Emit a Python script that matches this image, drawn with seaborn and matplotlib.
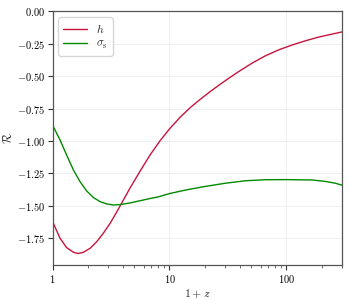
import numpy as np
import pandas as pd
import matplotlib
matplotlib.use("Agg")
import matplotlib.pyplot as plt
import matplotlib.ticker as mticker
import seaborn as sns

# 读图得到的数据点 (1+z, R)
h_x = [1.0, 1.016, 1.16, 1.32, 1.51, 1.66, 1.84, 2.10, 2.39, 2.72, 3.11, 3.55, 4.04,
       4.61, 5.61, 6.83, 8.32, 10.1, 12.4, 15.0, 18.3, 22.3, 27.2, 33.0, 39.0, 50.7,
       66.0, 85.8, 112.0, 145.0, 189.0, 246.0, 300.0]
h_y = [-1.625, -1.636, -1.752, -1.824, -1.86, -1.870, -1.86, -1.829, -1.778, -1.713,
       -1.636, -1.547, -1.456, -1.363, -1.233, -1.108, -0.998, -0.903, -0.815, -0.744,
       -0.679, -0.619, -0.562, -0.509, -0.465, -0.400, -0.343, -0.297, -0.259, -0.227,
       -0.198, -0.175, -0.158]

s_x = [1.0, 1.016, 1.16, 1.32, 1.51, 1.72, 1.96, 2.24, 2.55, 2.91, 3.32, 3.78, 4.61,
       5.61, 6.83, 8.05, 10.1, 14.0, 19.5, 30.0, 44.5, 66.0, 100.0, 166.0, 215.0,
       262.0, 300.0]
s_y = [-0.878, -0.890, -0.993, -1.109, -1.225, -1.315, -1.387, -1.438, -1.469, -1.487,
       -1.495, -1.492, -1.479, -1.462, -1.445, -1.432, -1.406, -1.378, -1.354, -1.327,
       -1.308, -1.300, -1.299, -1.302, -1.313, -1.327, -1.343]

df = pd.concat([
    pd.DataFrame({"x": h_x, "y": h_y, "series": "h"}),
    pd.DataFrame({"x": s_x, "y": s_y, "series": "s"}),
])

sns.set_style("ticks")
plt.rcParams['font.family'] = 'serif'
plt.rcParams['font.serif'] = ['cmr10', 'DejaVu Serif']
plt.rcParams['mathtext.fontset'] = 'cm'
plt.rcParams['axes.formatter.use_mathtext'] = True

fig = plt.figure(figsize=(3.5, 3.0), dpi=100)
ax = fig.add_axes([0.15, 0.116, 0.828, 0.846])

sns.lineplot(data=df, x="x", y="y", hue="series", palette={"h": "#c8143c", "s": "#008a00"},
             linewidth=1.0, ax=ax, legend=False)

ax.set_xscale("log")
ax.set_xlim(1, 300)
ax.set_ylim(-1.96, 0.0)
ax.set_yticks(np.arange(-1.75, 0.01, 0.25))
ax.yaxis.set_major_formatter(mticker.FuncFormatter(lambda v, p: "$%.2f$" % v))
ax.xaxis.set_major_locator(mticker.FixedLocator([1, 10, 100]))
ax.xaxis.set_major_formatter(mticker.FuncFormatter(lambda v, p: "$%d$" % v))
ax.xaxis.set_minor_locator(mticker.LogLocator(subs=np.arange(2, 10)))
ax.xaxis.set_minor_formatter(mticker.NullFormatter())

ax.grid(True, which="major", color="#ececec", linewidth=0.6)
ax.set_axisbelow(True)
for sp in ax.spines.values():
    sp.set_visible(True)
    sp.set_color("#555555")
    sp.set_linewidth(0.9)
ax.tick_params(which="major", labelsize=7.5, length=3.5, width=0.8, colors="#333333",
               labelcolor="black", pad=2)
ax.tick_params(which="minor", length=2, width=0.6, colors="#555555")

ax.set_xlabel(r"$1+z$", fontsize=8.5, labelpad=2)
ax.set_ylabel(r"$\mathcal{R}$", fontsize=8.5, labelpad=2)

ax.plot([], [], color="#c8143c", lw=1.0, label=r"$h$")
ax.plot([], [], color="#008a00", lw=1.0, label=r"$\sigma_\mathrm{s}$")
ax.legend(loc="upper left", fontsize=8.5, frameon=True, handlelength=2.0,
          borderpad=0.4, labelspacing=0.3, edgecolor="#cccccc")

plt.savefig("out.png", dpi=100)
plt.close()
